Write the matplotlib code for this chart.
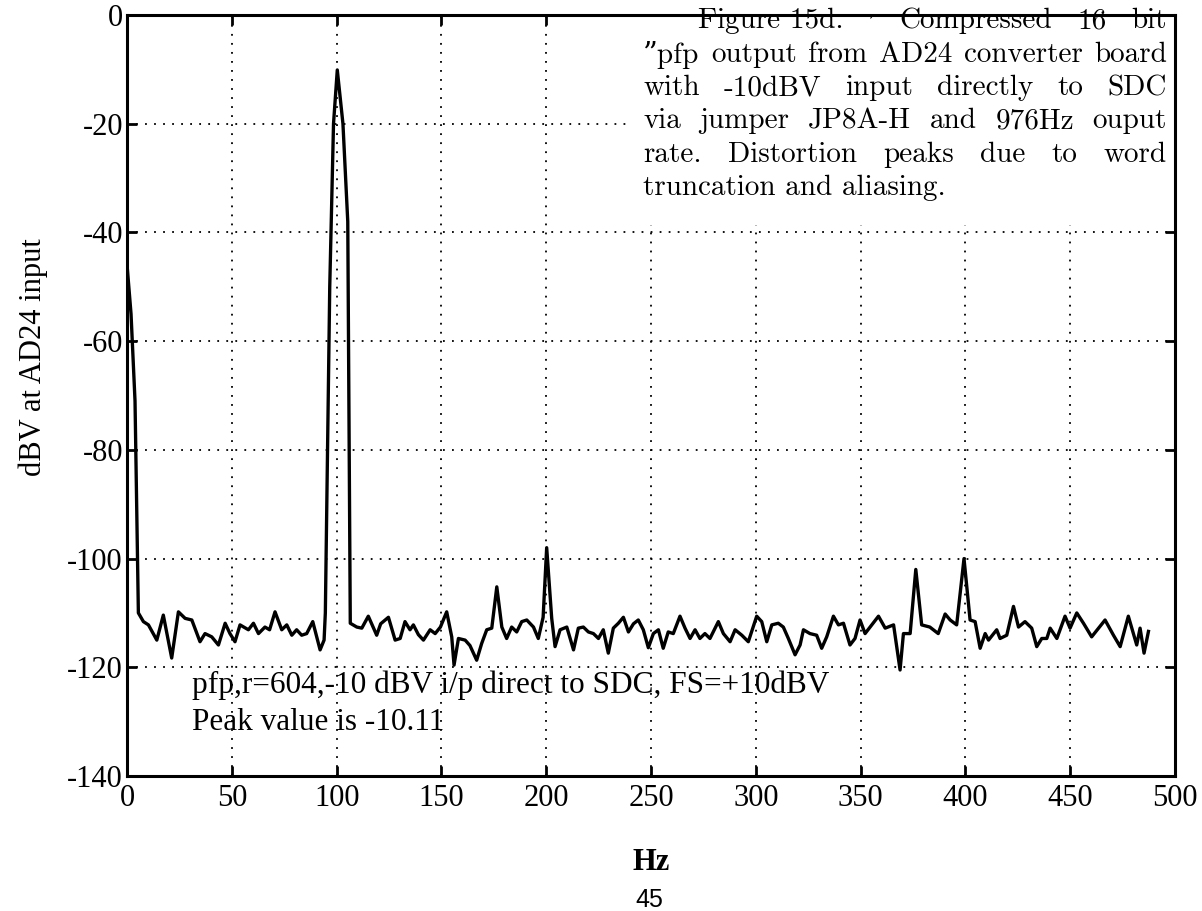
import numpy as np
import matplotlib.pyplot as plt
from matplotlib.patches import Rectangle

# spectrum: frequency (Hz) and level (dBV)
freq = [0, 1.9, 3.8, 5.4, 7.8, 10.2, 14.2, 17.3, 21.3, 24.5, 27.7, 30.9, 34.8, 37.2,
        40.4, 43.6, 46.8, 49.1, 51.5, 53.9, 57.9, 60.3, 62.7, 65.8, 68.0, 70.6, 73.8,
        76.2, 78.6, 80.9, 83.3, 85.7, 88.6, 92.1, 94.0, 94.6, 96.7, 98.5, 100.3, 103.0,
        105.3, 106.5, 109.6, 112.0, 115.1, 119.1, 121.0, 124.7, 127.9, 130.3, 132.6,
        135.0, 136.6, 139.0, 141.4, 144.6, 147.0, 149.5, 152.5, 154.9, 156.0, 158.1,
        161.3, 163.6, 166.8, 169.2, 171.6, 174.0, 176.4, 178.8, 181.1, 183.5, 185.9,
        188.3, 190.7, 193.9, 196.2, 198.5, 200.2, 202.6, 204.2, 206.6, 209.8, 213.0,
        215.3, 217.7, 220.1, 222.5, 224.9, 227.2, 229.6, 232.0, 234.4, 236.8, 239.2,
        241.6, 243.9, 246.3, 248.7, 251.1, 253.5, 255.8, 258.2, 260.6, 263.8, 266.2,
        268.6, 271.0, 273.3, 275.7, 278.1, 282.1, 284.5, 287.7, 290.1, 293.3, 296.4,
        300.4, 302.8, 305.2, 307.6, 310.7, 313.1, 315.5, 318.7, 321.1, 322.7, 325.8,
        329.0, 331.4, 333.8, 337.0, 339.4, 341.8, 344.9, 347.3, 349.7, 352.1, 355.3,
        358.5, 361.7, 365.7, 368.8, 370.4, 373.6, 376.3, 379.1, 383.0, 387.0, 390.3,
        392.7, 395.8, 399.3, 402.2, 404.6, 407.0, 409.4, 411.0, 414.9, 416.5, 419.7,
        422.9, 425.3, 428.4, 431.6, 434.0, 436.4, 438.8, 440.4, 443.6, 447.5, 449.9,
        453.1, 456.3, 460.2, 466.6, 470.6, 473.8, 477.7, 481.7, 483.3, 485.2, 487.3]
level = [-46, -55, -71, -110, -111.6, -112.2, -115, -110.4, -118.3, -109.8, -111, -111.3,
         -115.3, -113.8, -114.4, -115.9, -111.9, -113.8, -115.3, -112.2, -113.1, -111.9,
         -113.8, -112.6, -113.1, -109.8, -113.1, -112.2, -114.1, -113.1, -114.1, -113.8,
         -111.6, -116.8, -115, -110, -50, -20, -10.1, -20, -38, -111.9, -112.6, -112.8,
         -110.6, -114.1, -112, -110.8, -115, -114.7, -111.6, -113.1, -112.2, -114, -115,
         -113.1, -113.8, -112.6, -109.8, -114.4, -119.6, -114.7, -115, -116, -118.7,
         -115.6, -113.1, -112.8, -105.2, -112.6, -114.7, -112.6, -113.5, -111.6, -111.3,
         -112.6, -114.7, -110.8, -98, -111, -116.2, -113.1, -112.6, -116.8, -112.8,
         -112.6, -113.5, -113.8, -114.7, -113.1, -117.4, -112.8, -111.9, -110.8, -113.5,
         -112, -111.3, -113.1, -116.4, -113.8, -113.1, -116.5, -113.5, -113.8, -110.6,
         -112.8, -114.7, -113.1, -114.7, -113.8, -114.7, -111.6, -113.8, -115.3, -113.1,
         -114.1, -115.3, -110.6, -111.6, -115.3, -112.2, -111.9, -112.6, -114.7, -117.7,
         -115.9, -113.1, -113.8, -114.1, -116.5, -114.4, -110.6, -112.2, -111.9, -115.9,
         -114.7, -111.3, -113.8, -112.2, -110.6, -112.8, -112.2, -120.5, -113.8, -113.8,
         -102, -112.2, -112.6, -113.8, -110.2, -111.3, -112.2, -100, -111.3, -111.6,
         -116.5, -113.8, -115, -113.1, -114.7, -114.1, -108.8, -112.6, -111.6, -112.8,
         -116.2, -114.7, -114.7, -112.8, -114.7, -110.6, -112.8, -110, -111.9, -114.4,
         -111.3, -114.1, -116.2, -110.6, -115.9, -112.8, -117.4, -113.4]

xticks = [0, 50, 100, 150, 200, 250, 300, 350, 400, 450, 500]
yticks = [0, -20, -40, -60, -80, -100, -120, -140]

# caption lines split into the chunks that get spread across the line width
caption = [["Figure 15d.", "\u2019", "Compressed", "16", "bit"],
           ["\u201dpfp", "output", "from", "AD24", "converter", "board"],
           ["with", "-10dBV", "input", "directly", "to", "SDC"],
           ["via", "jumper", "JP8A-H", "and", "976Hz", "ouput"],
           ["rate.", "Distortion", "peaks", "due", "to", "word"],
           ["truncation and aliasing."]]
legend_lines = ["pfp,r=604,-10 dBV i/p direct to SDC, FS=+10dBV",
                "Peak value is -10.11"]

serif = ["Liberation Serif", "DejaVu Serif"]
cm = ["cmr10", "DejaVu Serif"]

W, H = 1202, 911
fig = plt.figure(figsize=(W / 100, H / 100), dpi=100)
ax = fig.add_axes([0.1057, 0.1482, 0.8719, 0.8353])

ax.plot(freq, level, color="black", linewidth=2.4, solid_joinstyle="round")

ax.set_xlim(0, 500)
ax.set_ylim(-140, 0)
ax.set_xticks(xticks)
ax.set_yticks(yticks)
ax.set_xticklabels([str(t) for t in xticks], family=serif, fontsize=22)
ax.set_yticklabels([str(t) for t in yticks], family=serif, fontsize=22)
ax.tick_params(direction="in", length=7, width=2, top=True, right=True)
ax.tick_params(axis="x", pad=6)
ax.tick_params(axis="y", pad=3)
ax.grid(True, color="black", linestyle=(0, (1, 4)), linewidth=1.3)
for s in ax.spines.values():
    s.set_linewidth(2.2)
    s.set_zorder(4)

# the pasted caption hides the grid behind it
ax.add_patch(Rectangle((0.48, 0.724), 0.52, 0.276, transform=ax.transAxes,
                       facecolor="white", edgecolor="none", zorder=3))

ax.set_ylabel("dBV at AD24 input", family=serif, fontsize=22)
ax.yaxis.set_label_coords(-0.075, 0.55)
ax.set_xlabel("Hz", family=serif, fontsize=22, fontweight="bold")
ax.xaxis.set_label_coords(0.5, -0.095)
fig.text(0.54, 1 - 900 / H, "45", family=["Liberation Sans"], fontsize=18,
         ha="center", va="center")

# caption block inside the plot, top right, justified like the original
renderer = fig.canvas.get_renderer()
cap_y = [21, 55, 88, 121, 155, 188]
left_px, indent_px, right_px = 643, 698, 1167
cap_size = 21
for i, (words, ypx) in enumerate(zip(caption, cap_y)):
    x0 = indent_px if i == 0 else left_px
    yf = 1 - ypx / H
    if len(words) == 1:
        fig.text(x0 / W, yf, words[0], family=cm, fontsize=cap_size, va="center")
        continue
    arts, widths = [], []
    for w in words:
        size = 11 if w == "\u2019" else cap_size
        t = fig.text(0, yf, w, family=cm, fontsize=size, va="center")
        arts.append(t)
        widths.append(t.get_window_extent(renderer).width)
    gap = (right_px - x0 - sum(widths)) / (len(words) - 1)
    xx = x0
    for t, wd in zip(arts, widths):
        t.set_x(xx / W)
        xx += wd + gap

ax.text(31, -123.3, legend_lines[0], family=serif, fontsize=22.5, va="center")
ax.text(31, -130.2, legend_lines[1], family=serif, fontsize=22.5, va="center")

fig.savefig("out.png", dpi=100, facecolor="white")
